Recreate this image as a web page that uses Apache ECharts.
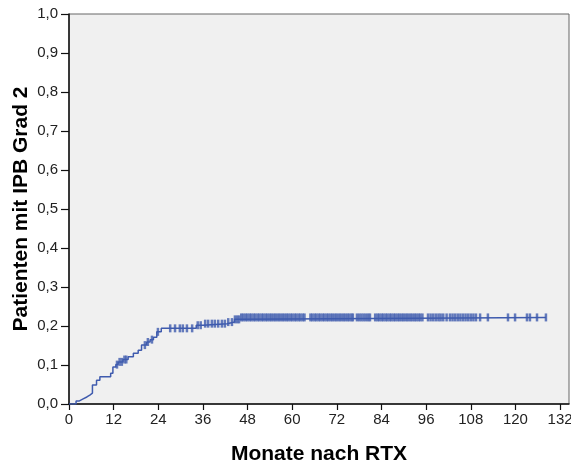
<!DOCTYPE html>
<html>
<head>
<meta charset="utf-8">
<script src="https://cdn.jsdelivr.net/npm/echarts@6/dist/echarts.min.js"></script>
<style>
  html, body { margin: 0; padding: 0; background: #ffffff; }
  #chart { width: 571px; height: 465px; }
</style>
</head>
<body>
<div id="chart"></div>
<script>
// Cumulative incidence step curve: month of each event and value after the step
const eventMonths = [0, 1.9, 2.8, 3.8, 4.8, 5.6, 6.3, 7.4, 8.3, 11.2, 11.8, 12.6, 13.2, 14.5, 15.9,
  17.3, 18.6, 19.5, 20.9, 21.8, 22.7, 23.6, 24.8, 34.2, 36.0, 42.5, 44.5, 46.3];
const cumIncidence = [0, 0.008, 0.013, 0.018, 0.023, 0.028, 0.049, 0.061, 0.070, 0.079, 0.095, 0.101, 0.108, 0.114, 0.121,
  0.130, 0.138, 0.151, 0.159, 0.165, 0.171, 0.185, 0.194, 0.202, 0.206, 0.210, 0.217, 0.222];

// Censored observations (months)
const censoredMonths = [12.9, 13.6, 14.2, 14.9, 15.4, 20.4, 21.2, 22.3, 23.9,
  27.2, 28.5, 29.8, 30.6, 31.7, 33.1,
  34.6, 35.4, 36.6, 37.4, 38.4, 39.2, 40.1, 41.1, 41.9, 42.8, 43.8,
  44.6, 45.2, 45.7, 46.3, 46.8, 47.4, 47.9, 48.5, 49.0, 49.6, 50.1, 50.7, 51.2, 51.8, 52.3, 52.9,
  53.4, 54.0, 54.5, 55.1, 55.6, 56.2, 56.7, 57.3, 57.8, 58.4, 58.9, 59.5, 60.0, 60.6, 61.1, 61.7,
  62.2, 62.8, 63.3,
  64.9, 65.4, 66.0, 66.5, 67.1, 67.6, 68.2, 68.7, 69.3, 69.8, 70.4, 70.9, 71.5, 72.0, 72.6, 73.1,
  73.7, 74.2, 74.8, 75.3, 75.9, 76.3,
  77.4, 78.0, 78.6, 79.2, 79.8, 80.4, 80.9,
  82.3, 82.9, 83.4, 84.0, 84.5, 85.1, 85.6, 86.2, 86.7, 87.3, 87.8, 88.4, 88.9, 89.5, 90.0, 90.6,
  91.1, 91.7, 92.2, 92.8, 93.3, 93.9, 94.4, 95.0,
  96.5, 97.2, 97.9, 98.6, 99.3, 99.9, 100.6, 101.5,
  102.4, 103.1, 103.8, 104.5, 105.2, 105.9, 106.6, 107.3, 108.0, 108.7, 109.4, 110.5,
  112.6, 118.0, 119.9, 123.1, 123.9, 125.8, 128.2];

const xTickLabels = [0, 12, 24, 36, 48, 60, 72, 84, 96, 108, 120, 132];
const yTickLabels = [0, 0.1, 0.2, 0.3, 0.4, 0.5, 0.6, 0.7, 0.8, 0.9, 1.0];

const xTitle = 'Monate nach RTX';
const yTitle = 'Patienten mit IPB Grad 2';

const lineColor = '#3f5bae';

function valueAt(t) {
  let v = 0;
  for (let i = 0; i < eventMonths.length; i++) {
    if (eventMonths[i] <= t) v = cumIncidence[i];
  }
  return v;
}

const lastMonth = Math.max.apply(null, censoredMonths);
const curve = eventMonths.map((m, i) => [m, cumIncidence[i]]);
curve.push([lastMonth, valueAt(lastMonth)]);
const censorPoints = censoredMonths.map(m => [m, valueAt(m)]);

const chart = echarts.init(document.getElementById('chart'), null, { renderer: 'canvas' });
chart.setOption({
  animation: false,
  backgroundColor: '#ffffff',
  grid: {
    left: 69, right: 2, top: 14, bottom: 61,
    outerBoundsMode: 'none',
    containLabel: false,
    show: true,
    backgroundColor: '#f0f0f0',
    borderColor: '#666666',
    borderWidth: 1
  },
  xAxis: {
    type: 'value',
    min: 0,
    max: 134.4,
    interval: 12,
    name: xTitle,
    nameLocation: 'middle',
    nameGap: 40,
    nameMoveOverlap: false,
    nameTextStyle: { fontFamily: 'Liberation Sans', fontWeight: 'bold', fontSize: 21, color: '#000' },
    axisLine: { show: true, lineStyle: { color: '#111', width: 1.5 } },
    axisTick: { show: true, length: 6, lineStyle: { color: '#111', width: 1.2 }, customValues: xTickLabels },
    axisLabel: { margin: 8, fontFamily: 'Liberation Sans', fontSize: 15, color: '#222', customValues: xTickLabels,
      formatter: v => String(v) },
    splitLine: { show: false }
  },
  yAxis: {
    type: 'value',
    min: 0,
    max: 1,
    interval: 0.1,
    name: yTitle,
    nameLocation: 'middle',
    nameGap: 37,
    nameMoveOverlap: false,
    nameTextStyle: { fontFamily: 'Liberation Sans', fontWeight: 'bold', fontSize: 21, color: '#000' },
    axisLine: { show: true, lineStyle: { color: '#111', width: 1.5 } },
    axisTick: { show: true, length: 8, lineStyle: { color: '#111', width: 1.2 }, customValues: yTickLabels },
    axisLabel: { margin: 11, fontFamily: 'Liberation Sans', fontSize: 15, color: '#222', customValues: yTickLabels,
      formatter: v => v.toFixed(1).replace('.', ',') },
    splitLine: { show: false }
  },
  series: [
    {
      type: 'line',
      data: curve,
      step: 'end',
      showSymbol: false,
      lineStyle: { color: lineColor, width: 1.5 },
      z: 3
    },
    {
      type: 'scatter',
      data: censorPoints,
      symbol: 'rect',
      symbolSize: [2.5, 8],
      itemStyle: { color: lineColor },
      z: 4
    }
  ]
});
</script>
</body>
</html>
